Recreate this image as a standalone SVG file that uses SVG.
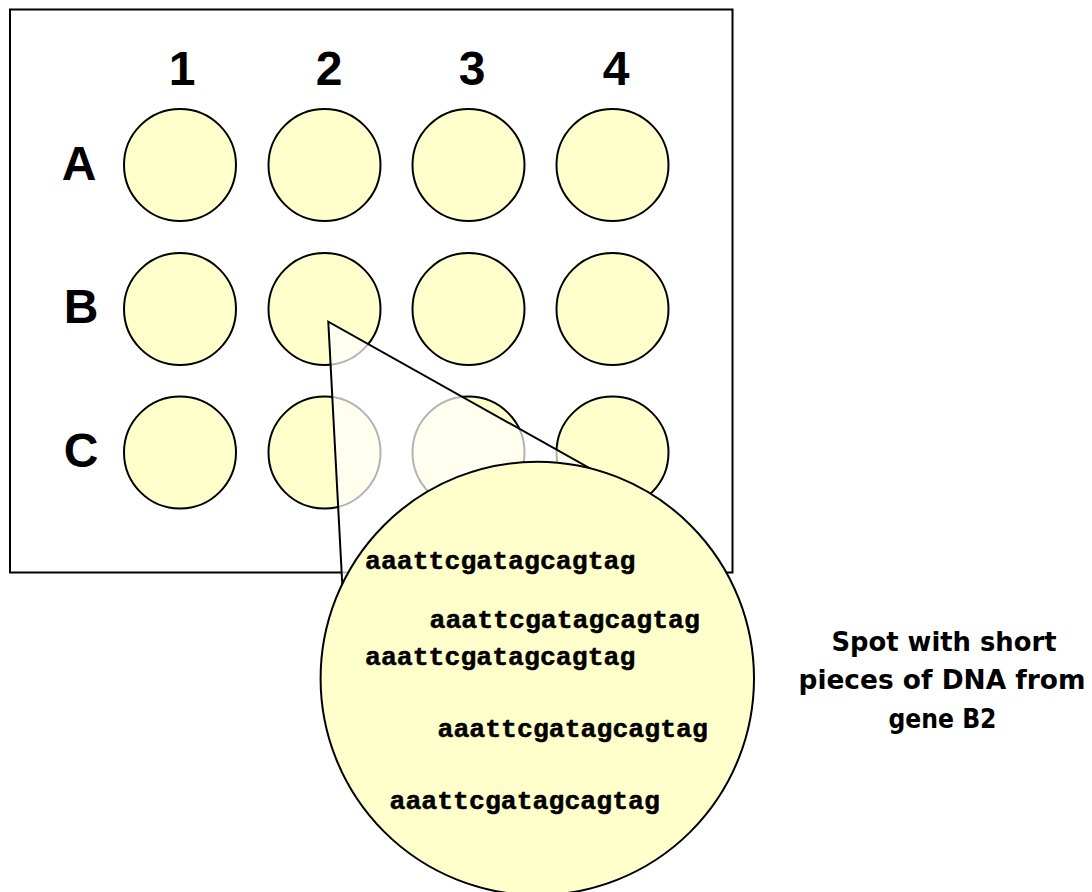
<svg xmlns="http://www.w3.org/2000/svg" width="1092" height="892" viewBox="0 0 1092 892">
  <style>
    .well { fill: #FFFFCC; stroke: #000; stroke-width: 2; }
    .lbl { font-family: "Liberation Sans", Arial, sans-serif; font-weight: bold; font-size: 48px; fill: #000; }
    .seq { font-family: "Liberation Mono", "Courier New", monospace; font-weight: bold; font-size: 26.5px; fill: #000; stroke: #000; stroke-width: 0.5; }
    .note { font-family: "DejaVu Sans", "Noto Sans", sans-serif; font-weight: bold; font-size: 26px; fill: #000; text-anchor: middle; }
  </style>
  <rect width="1092" height="892" fill="#fff"/>

  <!-- array slide -->
  <g id="slide">
    <rect x="10" y="9.5" width="722.5" height="563" fill="#fff" stroke="#000" stroke-width="2"/>
  </g>

  <!-- column and row headings -->
  <g id="headings" class="lbl">
    <text x="182" y="85" text-anchor="middle">1</text>
    <text x="329" y="85" text-anchor="middle">2</text>
    <text x="472" y="85" text-anchor="middle">3</text>
    <text x="616" y="85" text-anchor="middle">4</text>
    <text x="79" y="180" text-anchor="middle">A</text>
    <text x="81" y="323" text-anchor="middle">B</text>
    <text x="81" y="467" text-anchor="middle">C</text>
  </g>

  <!-- spots -->
  <g id="spot-A1"><circle class="well" cx="180" cy="165" r="56"/></g>
  <g id="spot-A2"><circle class="well" cx="324.5" cy="165" r="56"/></g>
  <g id="spot-A3"><circle class="well" cx="468.5" cy="165" r="56"/></g>
  <g id="spot-A4"><circle class="well" cx="612.5" cy="165" r="56"/></g>
  <g id="spot-B1"><circle class="well" cx="180" cy="309" r="56"/></g>
  <g id="spot-B2"><circle class="well" cx="324.5" cy="309" r="56"/></g>
  <g id="spot-B3"><circle class="well" cx="468.5" cy="309" r="56"/></g>
  <g id="spot-B4"><circle class="well" cx="612.5" cy="309" r="56"/></g>
  <g id="spot-C1"><circle class="well" cx="180" cy="452.5" r="56"/></g>
  <g id="spot-C2"><circle class="well" cx="324.5" cy="452.5" r="56"/></g>
  <g id="spot-C3"><circle class="well" cx="468.5" cy="452.5" r="56"/></g>
  <g id="spot-C4"><circle class="well" cx="612.5" cy="452.5" r="56"/></g>

  <!-- magnification wedge from spot B2 -->
  <g id="connectors">
    <polygon points="328.3,321.7 346.3,660 640,496.5" fill="#fff" fill-opacity="0.7" stroke="#000" stroke-width="2" stroke-linejoin="miter"/>
  </g>

  <!-- enlarged spot -->
  <g id="spot-zoom">
    <circle cx="537.3" cy="678.4" r="216.7" fill="#FFFFCC" stroke="#000" stroke-width="2"/>
    <text class="seq" x="365" y="569">aaattcgatagcagtag</text>
    <text class="seq" x="429.5" y="628">aaattcgatagcagtag</text>
    <text class="seq" x="365" y="665">aaattcgatagcagtag</text>
    <text class="seq" x="437.5" y="736.5">aaattcgatagcagtag</text>
    <text class="seq" x="389.5" y="809">aaattcgatagcagtag</text>
  </g>

  <!-- caption -->
  <g id="caption" class="note">
    <text x="944" y="651" textLength="225" lengthAdjust="spacingAndGlyphs">Spot with short</text>
    <text x="942" y="689" textLength="287" lengthAdjust="spacingAndGlyphs">pieces of DNA from</text>
    <text x="942.5" y="728" textLength="108" lengthAdjust="spacingAndGlyphs">gene B2</text>
  </g>
</svg>
